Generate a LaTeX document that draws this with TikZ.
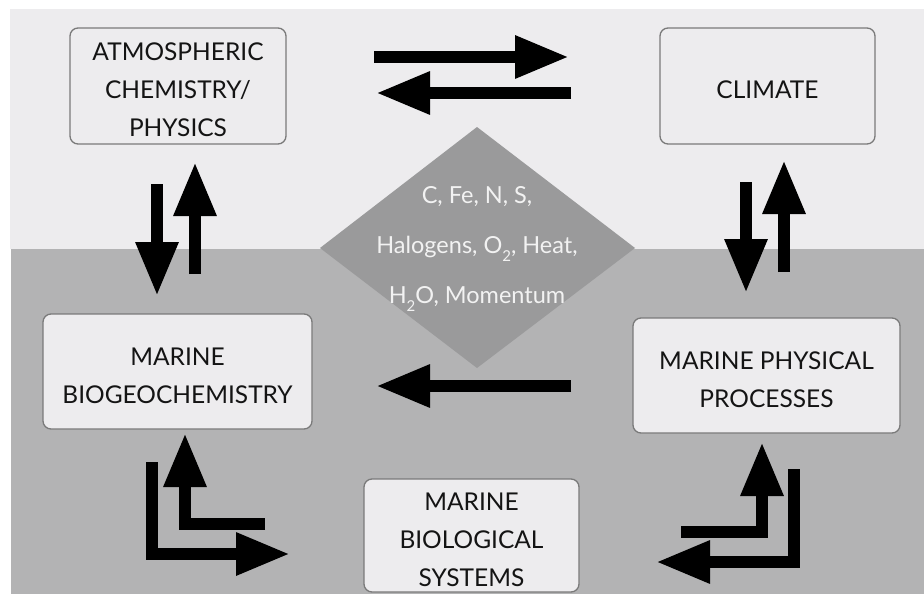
\documentclass[tikz,border=0pt]{standalone}
\usepackage{fontspec}
\setmainfont{Lato}
\usetikzlibrary{arrows.meta}
\definecolor{bglight}{HTML}{EDECEE}
\definecolor{bgdark}{HTML}{B3B3B4}
\definecolor{diam}{HTML}{9A9A9B}
\definecolor{boxline}{HTML}{7A7A7A}
\definecolor{boxfill}{HTML}{EDECEE}
\definecolor{textc}{HTML}{141414}
\definecolor{diamtext}{HTML}{F2F2F2}
\newcommand{\subtwo}{\raisebox{-0.6ex}{\fontsize{15}{15}\selectfont 2}}
\tikzset{
  box/.style={draw=boxline, line width=1.3pt, rounded corners=8pt, fill=boxfill, inner sep=0pt},
  boxtext/.style={text=textc, align=center, font=\fontsize{24.5}{38}\selectfont, yshift=-4pt, inner sep=0pt},
  bigarrow/.style={line width=12pt, line join=miter, -{Triangle[length=54pt,width=40pt]}, black},
}
\begin{document}
\begin{tikzpicture}[x=1pt,y=-1pt]
\useasboundingbox (0,0) rectangle (924,594);
\fill[white] (0,0) rectangle (924,594);
\fill[bglight] (10,9) rectangle (924,249);
\fill[bgdark] (11,249) rectangle (924,594);
% diamond
\fill[diam] (477,127) -- (635,248) -- (477,368) -- (320,248) -- cycle;
\node[text=diamtext, align=center, font=\fontsize{23.5}{50}\selectfont, inner sep=0pt] (flux) at (477,249)
  {C, Fe, N, S,\\Halogens, O\subtwo, Heat,\\H\subtwo O, Momentum};
% boxes
\node[box, minimum width=216pt, minimum height=116pt, label={[boxtext]center:ATMOSPHERIC\\CHEMISTRY/\\PHYSICS}] (atm) at (178,86) {};
\node[box, minimum width=215pt, minimum height=116pt, label={[boxtext]center:CLIMATE}] (clim) at (767.5,86) {};
\node[box, minimum width=269pt, minimum height=115pt, label={[boxtext]center:MARINE\\BIOGEOCHEMISTRY}] (mbgc) at (177.5,371.5) {};
\node[box, minimum width=267pt, minimum height=115pt, label={[boxtext]center:MARINE PHYSICAL\\PROCESSES}] (mpp) at (766.5,375.5) {};
\node[box, minimum width=215pt, minimum height=113pt, label={[boxtext]center:MARINE\\BIOLOGICAL\\SYSTEMS}] (mbs) at (471.5,535.5) {};
% arrow end points
\coordinate (a1s) at (374,57);  \coordinate (a1e) at (569,57);
\coordinate (a2s) at (571,93);  \coordinate (a2e) at (376,93);
\coordinate (a3s) at (157,184); \coordinate (a3e) at (157,296);
\coordinate (a4s) at (195,274); \coordinate (a4e) at (195,162);
\coordinate (a5s) at (746,182); \coordinate (a5e) at (746,293);
\coordinate (a6s) at (784,272); \coordinate (a6e) at (784,160);
\coordinate (a7s) at (571,386); \coordinate (a7e) at (376,386);
\coordinate (a8s) at (265,524); \coordinate (a8e) at (185,433);
\coordinate (a9s) at (152,462); \coordinate (a9e) at (290,554);
\coordinate (a10s) at (681,532); \coordinate (a10e) at (762,442);
\coordinate (a11s) at (794,469); \coordinate (a11e) at (656,562);
\draw[bigarrow] (a1s) -- (a1e);
\draw[bigarrow] (a2s) -- (a2e);
\draw[bigarrow] (a3s) -- (a3e);
\draw[bigarrow] (a4s) -- (a4e);
\draw[bigarrow] (a5s) -- (a5e);
\draw[bigarrow] (a6s) -- (a6e);
\draw[bigarrow] (a7s) -- (a7e);
\draw[bigarrow] (a8s) -| (a8e);
\draw[bigarrow] (a9s) |- (a9e);
\draw[bigarrow] (a10s) -| (a10e);
\draw[bigarrow] (a11s) |- (a11e);
\end{tikzpicture}
\end{document}
